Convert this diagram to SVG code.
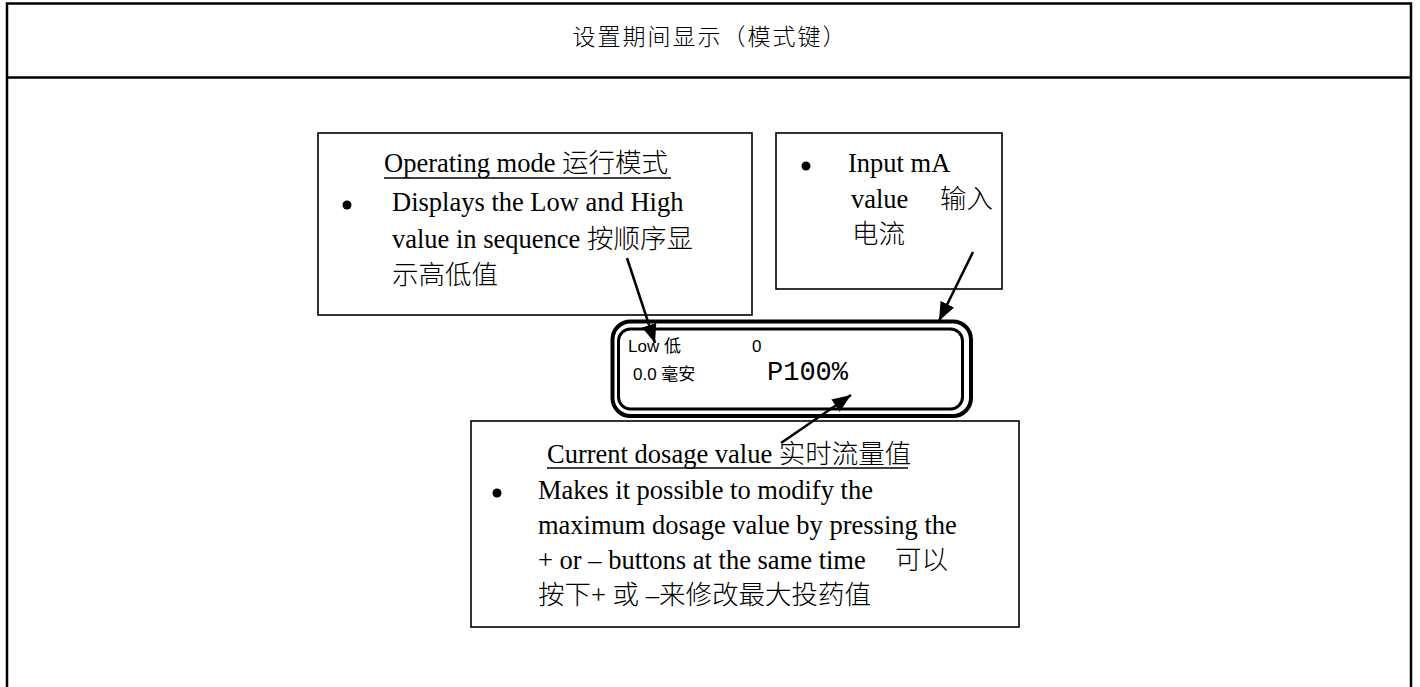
<svg xmlns="http://www.w3.org/2000/svg" width="1420" height="687" viewBox="0 0 1420 687">
  <defs>
    <marker id="arrowhead" viewBox="0 0 10 8" refX="10" refY="4" markerWidth="19" markerHeight="15" markerUnits="userSpaceOnUse" orient="auto">
      <path d="M0,0 L10,4 L0,8 z" fill="#000"/>
    </marker>
    <style>
      .frame { fill: none; stroke: #000; stroke-width: 2.5; }
      .box { fill: #fff; stroke: #000; stroke-width: 1.6; }
      .serif { font-family: "Liberation Serif", "Noto Sans CJK SC", serif; font-size: 26.5px; font-weight: 300; fill: #000; }
      .title { font-family: "Noto Sans CJK SC", sans-serif; font-size: 23px; font-weight: 300; fill: #000; }
      .lcd { font-family: "Liberation Sans", "Noto Sans CJK SC", sans-serif; font-size: 17px; fill: #000; }
      .mono { font-family: "Liberation Mono", monospace; font-size: 27px; fill: #000; }
      .conn { stroke: #000; stroke-width: 2.5; fill: none; marker-end: url(#arrowhead); }
      .ul { stroke: #000; stroke-width: 1.5; }
    </style>
  </defs>

  <rect width="1420" height="687" fill="#fff"/>

  <!-- table frame: header row and open-bottom body -->
  <g id="table">
    <path class="frame" d="M7,690 V3.5 H1411 V690"/>
    <line class="frame" x1="7" y1="77.5" x2="1411" y2="77.5"/>
    <text class="title" x="710" y="45" text-anchor="middle" letter-spacing="2">设置期间显示（模式键）</text>
  </g>

  <!-- operating mode callout -->
  <g id="operating-mode">
    <rect class="box" x="318" y="133" width="434" height="182"/>
    <text class="serif" x="384" y="172">Operating mode 运行模式</text>
    <line class="ul" x1="384" y1="178" x2="671" y2="178"/>
    <circle cx="347" cy="205" r="4.5"/>
    <text class="serif" x="392" y="211">Displays the Low and High</text>
    <text class="serif" x="392" y="248">value in sequence 按顺序显</text>
    <text class="serif" x="392" y="284">示高低值</text>
  </g>

  <!-- input current callout -->
  <g id="input-ma">
    <rect class="box" x="776" y="133" width="226" height="156"/>
    <circle cx="806" cy="166" r="4.5"/>
    <text class="serif" x="848" y="172">Input mA</text>
    <text class="serif" x="851" y="208">value</text>
    <text class="serif" x="940" y="208">输入</text>
    <text class="serif" x="852" y="243">电流</text>
  </g>

  <!-- LCD panel -->
  <g id="lcd-display">
    <rect x="612.5" y="321.5" width="358.5" height="94.5" rx="18" fill="#fff" stroke="#000" stroke-width="4"/>
    <rect x="618.5" y="329" width="344" height="80" rx="12" fill="none" stroke="#000" stroke-width="3"/>
    <text class="lcd" x="628" y="352">Low 低</text>
    <text class="lcd" x="752" y="352">0</text>
    <text class="lcd" x="633" y="380">0.0 毫安</text>
    <text class="mono" x="767" y="380">P100%</text>
  </g>

  <!-- current dosage callout -->
  <g id="current-dosage">
    <rect class="box" x="471" y="421" width="548" height="206"/>
    <text class="serif" x="547" y="463">Current dosage value 实时流量值</text>
    <line class="ul" x1="547" y1="468" x2="908" y2="468"/>
    <circle cx="497" cy="493" r="4.5"/>
    <text class="serif" x="538" y="499">Makes it possible to modify the</text>
    <text class="serif" x="538" y="534">maximum dosage value by pressing the</text>
    <text class="serif" x="538" y="569">+ or – buttons at the same time</text>
    <text class="serif" x="895" y="569">可以</text>
    <text class="serif" x="538" y="604">按下+ 或 –来修改最大投药值</text>
  </g>

  <!-- pointers from callouts to the display -->
  <g id="connectors">
    <line class="conn" x1="627" y1="258" x2="655" y2="343"/>
    <line class="conn" x1="973" y1="252" x2="939" y2="321"/>
    <line class="conn" x1="781" y1="443" x2="851" y2="395"/>
  </g>
</svg>
